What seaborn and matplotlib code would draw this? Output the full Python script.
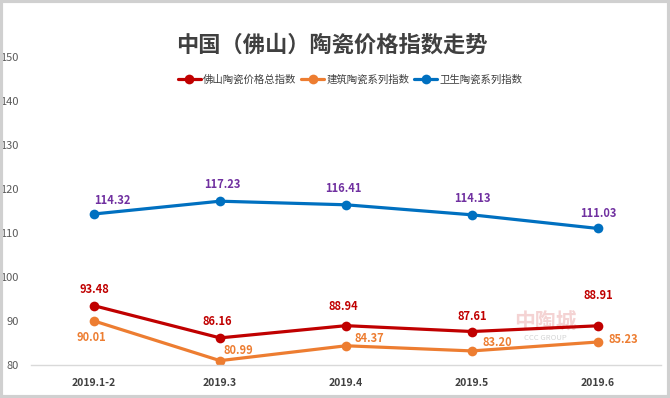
import pandas as pd
import matplotlib.pyplot as plt
import seaborn as sns
from matplotlib.patches import Rectangle

# data
months = ['2019.1-2', '2019.3', '2019.4', '2019.5', '2019.6']
series_names = ['佛山陶瓷价格总指数', '建筑陶瓷系列指数', '卫生陶瓷系列指数']
total_index = [93.48, 86.16, 88.94, 87.61, 88.91]
building_index = [90.01, 80.99, 84.37, 83.20, 85.23]
sanitary_index = [114.32, 117.23, 116.41, 114.13, 111.03]
y_ticks = [80, 90, 100, 110, 120, 130, 140, 150]

colors = ['#C00000', '#ED7D31', '#0070C0']
label_colors = ['#C00000', '#ED7D31', '#7030A0']

df = pd.DataFrame({
    'month': months * 3,
    'series': [s for s in series_names for _ in months],
    'value': total_index + building_index + sanitary_index,
})

sns.set_style('white')
plt.rcParams['font.family'] = ['Noto Sans CJK SC', 'DejaVu Sans']

fig = plt.figure(figsize=(6.7, 3.98), dpi=100)
ax = fig.add_axes([31 / 670, 33 / 398, 630 / 670, 308 / 398])

# faint watermark behind the lines
ax.text(0.816, 0.14, '中陶城', transform=ax.transAxes, fontsize=15, fontweight='bold',
        color='#EBA8A8', alpha=0.5, ha='center', va='center', zorder=0)
ax.text(0.816, 0.088, 'CCC GROUP', transform=ax.transAxes, fontsize=5.5,
        color='#B8B8B8', alpha=0.6, ha='center', va='center', zorder=0)

sns.lineplot(data=df, x='month', y='value', hue='series', hue_order=series_names,
             palette=colors, marker='o', markersize=7, markeredgewidth=0,
             linewidth=2.3, sort=False, ax=ax)

ax.set_xlim(-0.5, len(months) - 0.5)
ax.set_ylim(80, 150)
ax.set_yticks(y_ticks)
ax.set_xlabel('')
ax.set_ylabel('')
ax.tick_params(axis='y', length=0, labelsize=8, labelcolor='#595959', pad=9)
ax.tick_params(axis='x', length=0, labelsize=7.5, labelcolor='#404040', pad=9)
for lab in ax.get_xticklabels():
    lab.set_fontweight('bold')
for side in ['top', 'left', 'right']:
    ax.spines[side].set_visible(False)
ax.spines['bottom'].set_color('#D9D9D9')
ax.spines['bottom'].set_linewidth(1)

# value labels (offsets in points)
offsets = [
    [(0, 12), (-2, 12), (-2, 14), (0, 11), (0, 22)],
    [(-2, -12), (13, 7), (17, 5), (18, 6), (18, 2)],
    [(13, 10), (2, 12), (-2, 12), (0, 12), (0, 11)],
]
all_values = [total_index, building_index, sanitary_index]
for s, vals in enumerate(all_values):
    for i, v in enumerate(vals):
        ax.annotate(f'{v:.2f}', (i, v), xytext=offsets[s][i], textcoords='offset points',
                    ha='center', va='center', fontsize=8, fontweight='bold',
                    color=label_colors[s])

ax.legend(loc='center', bbox_to_anchor=(350 / 670, 1 - 80 / 398), bbox_transform=fig.transFigure,
          ncol=3, frameon=False, fontsize=7.5, handlelength=2.2, handletextpad=0.2,
          columnspacing=0.5, labelcolor='#404040')

fig.text(332 / 670, 1 - 45 / 398, '中国（佛山）陶瓷价格指数走势', ha='center', va='center',
         fontsize=16, fontweight='bold', color='#404040')

fig.patches.append(Rectangle((0.002, 0.003), 0.996, 0.994, transform=fig.transFigure,
                             fill=False, edgecolor='#D0D0D0', linewidth=3))

fig.savefig('out.png', dpi=100)
